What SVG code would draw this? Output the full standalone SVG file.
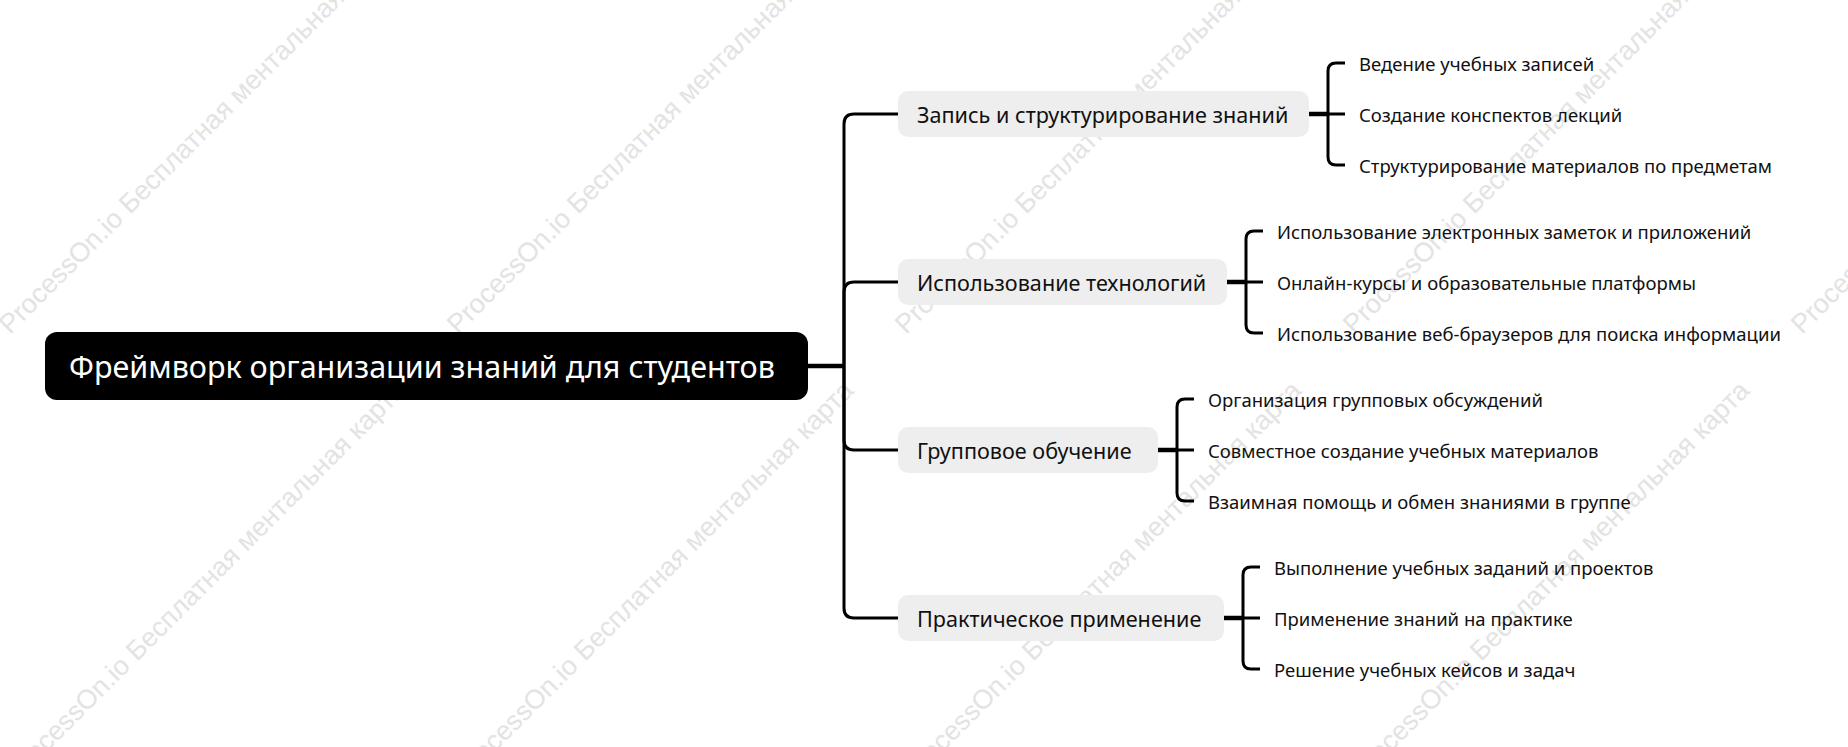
<svg xmlns="http://www.w3.org/2000/svg" width="1848" height="747" viewBox="0 0 1848 747">
<style>
.wm{font-family:"Liberation Sans",Arial,sans-serif;font-size:27px;fill:#e3e3e3}
.root-box{fill:#000}
.root-t{font-family:"Noto Sans","Liberation Sans",sans-serif;font-size:30.5px;fill:#fff;dominant-baseline:central}
.l1-box{fill:#eeeeee}
.l1-t{font-family:"Noto Sans","Liberation Sans",sans-serif;font-size:21.6px;fill:#111;dominant-baseline:central}
.l2-t{font-family:"Noto Sans","Liberation Sans",sans-serif;font-size:18.5px;fill:#111;dominant-baseline:central}
.ln{fill:none;stroke:#000;stroke-width:3}
.stub{fill:none;stroke:#000;stroke-width:4.5}
</style>
<rect width="1848" height="747" fill="#fff"/>
<g id="watermark">
<text class="wm" transform="translate(10,335) rotate(-45)">ProcessOn.io Бесплатная ментальная карта</text>
<text class="wm" transform="translate(458,335) rotate(-45)">ProcessOn.io Бесплатная ментальная карта</text>
<text class="wm" transform="translate(906,335) rotate(-45)">ProcessOn.io Бесплатная ментальная карта</text>
<text class="wm" transform="translate(1354,335) rotate(-45)">ProcessOn.io Бесплатная ментальная карта</text>
<text class="wm" transform="translate(1802,335) rotate(-45)">ProcessOn.io Бесплатная ментальная карта</text>
<text class="wm" transform="translate(17,782) rotate(-45)">ProcessOn.io Бесплатная ментальная карта</text>
<text class="wm" transform="translate(465,782) rotate(-45)">ProcessOn.io Бесплатная ментальная карта</text>
<text class="wm" transform="translate(913,782) rotate(-45)">ProcessOn.io Бесплатная ментальная карта</text>
<text class="wm" transform="translate(1361,782) rotate(-45)">ProcessOn.io Бесплатная ментальная карта</text>
</g>
<g id="connectors">
<path class="stub" d="M806,366 H844"/>
<path class="ln" d="M844,366 V124 Q844,114 854,114 H900"/>
<path class="ln" d="M844,366 V292 Q844,282 854,282 H900"/>
<path class="ln" d="M844,366 V440 Q844,450 854,450 H900"/>
<path class="ln" d="M844,366 V608 Q844,618 854,618 H900"/>
<path class="stub" d="M1309,114 H1328"/>
<path class="ln" d="M1345,63 H1336 Q1328,63 1328,71 V157 Q1328,165 1336,165 H1345 M1328,114 H1345"/>
<path class="stub" d="M1227,282 H1246"/>
<path class="ln" d="M1263,231 H1254 Q1246,231 1246,239 V325 Q1246,333 1254,333 H1263 M1246,282 H1263"/>
<path class="stub" d="M1158,450 H1177"/>
<path class="ln" d="M1194,399 H1185 Q1177,399 1177,407 V493 Q1177,501 1185,501 H1194 M1177,450 H1194"/>
<path class="stub" d="M1224,618 H1243"/>
<path class="ln" d="M1260,567 H1251 Q1243,567 1243,575 V661 Q1243,669 1251,669 H1260 M1243,618 H1260"/>
</g>
<g id="root">
<rect class="root-box" x="45" y="332" width="763" height="68" rx="12"/>
<text class="root-t" x="69" y="366">Фреймворк организации знаний для студентов</text>
</g>
<g id="n1">
<rect class="l1-box" x="898" y="91" width="411" height="46" rx="10"/>
<text class="l1-t" x="917" y="114">Запись и структурирование знаний</text>
</g>
<g id="n1-1"><text class="l2-t" x="1359" y="63">Ведение учебных записей</text></g>
<g id="n1-2"><text class="l2-t" x="1359" y="114">Создание конспектов лекций</text></g>
<g id="n1-3"><text class="l2-t" x="1359" y="165">Структурирование материалов по предметам</text></g>
<g id="n2">
<rect class="l1-box" x="898" y="259" width="329" height="46" rx="10"/>
<text class="l1-t" x="917" y="282">Использование технологий</text>
</g>
<g id="n2-1"><text class="l2-t" x="1277" y="231">Использование электронных заметок и приложений</text></g>
<g id="n2-2"><text class="l2-t" x="1277" y="282">Онлайн-курсы и образовательные платформы</text></g>
<g id="n2-3"><text class="l2-t" x="1277" y="333">Использование веб-браузеров для поиска информации</text></g>
<g id="n3">
<rect class="l1-box" x="898" y="427" width="260" height="46" rx="10"/>
<text class="l1-t" x="917" y="450">Групповое обучение</text>
</g>
<g id="n3-1"><text class="l2-t" x="1208" y="399">Организация групповых обсуждений</text></g>
<g id="n3-2"><text class="l2-t" x="1208" y="450">Совместное создание учебных материалов</text></g>
<g id="n3-3"><text class="l2-t" x="1208" y="501">Взаимная помощь и обмен знаниями в группе</text></g>
<g id="n4">
<rect class="l1-box" x="898" y="595" width="326" height="46" rx="10"/>
<text class="l1-t" x="917" y="618">Практическое применение</text>
</g>
<g id="n4-1"><text class="l2-t" x="1274" y="567">Выполнение учебных заданий и проектов</text></g>
<g id="n4-2"><text class="l2-t" x="1274" y="618">Применение знаний на практике</text></g>
<g id="n4-3"><text class="l2-t" x="1274" y="669">Решение учебных кейсов и задач</text></g>
</svg>
